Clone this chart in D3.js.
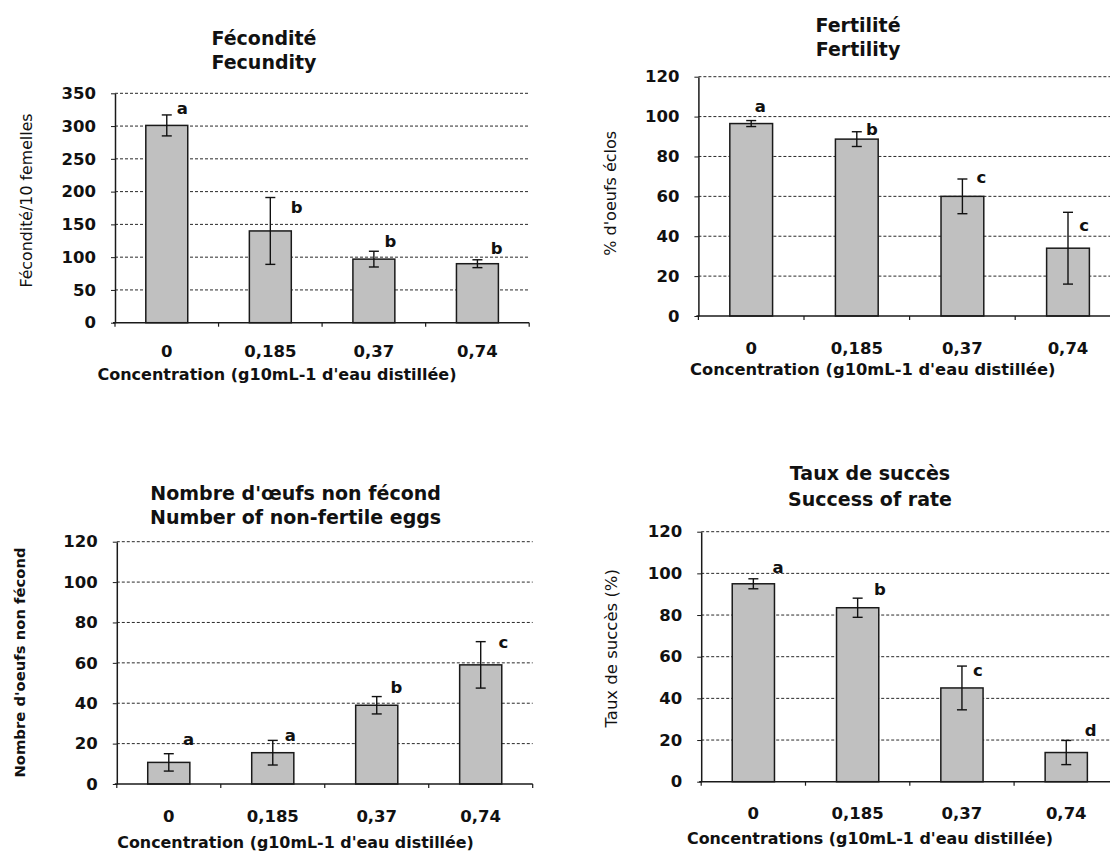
<!DOCTYPE html>
<html>
<head>
<meta charset="utf-8">
<script src="https://cdn.jsdelivr.net/npm/d3@7/dist/d3.min.js"></script>
<style>
  html, body { margin: 0; padding: 0; background: #fff; }
  svg { display: block; font-family: "DejaVu Sans", Verdana, sans-serif; }
</style>
</head>
<body>
<svg id="chart" width="1110" height="852"></svg>
<script>
// Concentrations tested (g per 10 mL of distilled water)
const categories = ["0", "0,185", "0,37", "0,74"];

// Fecundity (eggs per 10 females)
const fecundityMean = [301, 140, 97, 90];
const fecundityErr = [16, 51, 12, 6];
const fecundityLetters = ["a", "b", "b", "b"];
const fecundityTicks = [0, 50, 100, 150, 200, 250, 300, 350];

// Fertility (% hatched eggs)
const fertilityMean = [96.5, 88.7, 60, 34];
const fertilityErr = [1.5, 3.7, 8.7, 18];
const fertilityLetters = ["a", "b", "c", "c"];

// Non-fertile eggs
const nonFertileMean = [10.7, 15.5, 39, 59];
const nonFertileErr = [4.3, 6.1, 4.3, 11.5];
const nonFertileLetters = ["a", "a", "b", "c"];

// Success rate (%)
const successMean = [95, 83.5, 45, 14];
const successErr = [2.4, 4.6, 10.5, 5.8];
const successLetters = ["a", "b", "c", "d"];

const percentTicks = [0, 20, 40, 60, 80, 100, 120];

const FONT = "'DejaVu Sans', Verdana, sans-serif";
const INK = "#111";
const svg = d3.select("#chart");

function drawPanel(p) {
  const g = svg.append("g");
  const yMax = p.ticks[p.ticks.length - 1];

  const x = d3.scaleBand()
    .domain(categories)
    .range([p.left, p.right])
    .paddingInner(0.595)
    .paddingOuter(0.2975);
  const y = d3.scaleLinear().domain([0, yMax]).range([p.bottom, p.top]);

  // dashed horizontal gridlines
  g.append("g").selectAll("line")
    .data(p.ticks.filter(t => t > 0))
    .join("line")
    .attr("x1", p.left).attr("x2", p.right)
    .attr("y1", d => y(d)).attr("y2", d => y(d))
    .attr("stroke", "#2a2a2a")
    .attr("stroke-width", 1)
    .attr("stroke-dasharray", "3,2");

  // bars
  g.append("g").selectAll("rect")
    .data(p.mean)
    .join("rect")
    .attr("x", (d, i) => x(categories[i]))
    .attr("y", d => y(d))
    .attr("width", x.bandwidth())
    .attr("height", d => y(0) - y(d))
    .attr("fill", "#c0c0c0")
    .attr("stroke", "#1a1a1a")
    .attr("stroke-width", 1.5);

  // error bars
  const eb = g.append("g").attr("stroke", INK).attr("stroke-width", 1.4);
  p.mean.forEach((m, i) => {
    const cx = x(categories[i]) + x.bandwidth() / 2;
    const hi = y(m + p.err[i]), lo = y(m - p.err[i]);
    eb.append("line").attr("x1", cx).attr("x2", cx).attr("y1", hi).attr("y2", lo);
    eb.append("line").attr("x1", cx - 5).attr("x2", cx + 5).attr("y1", hi).attr("y2", hi);
    eb.append("line").attr("x1", cx - 5).attr("x2", cx + 5).attr("y1", lo).attr("y2", lo);
  });

  // significance letters
  g.append("g").selectAll("text")
    .data(p.letters)
    .join("text")
    .attr("x", (d, i) => x(categories[i]) + x.bandwidth() / 2 + p.letterDx[i])
    .attr("y", (d, i) => y(p.mean[i] + p.err[i]) + p.letterDy[i])
    .attr("dy", "0.35em")
    .attr("text-anchor", "middle")
    .attr("font-size", 16.5)
    .attr("font-weight", "bold")
    .attr("fill", INK)
    .text(d => d);

  // y axis
  const yAxis = g.append("g")
    .attr("transform", `translate(${p.left},0)`)
    .call(d3.axisLeft(y).tickValues(p.ticks).tickSize(4).tickPadding(15).tickSizeOuter(0));
  yAxis.select(".domain").attr("stroke", "#1a1a1a").attr("stroke-width", 1.5);
  yAxis.selectAll(".tick line").attr("stroke", "#1a1a1a");
  yAxis.selectAll(".tick text")
    .attr("font-family", FONT)
    .attr("font-size", 16.5)
    .attr("font-weight", "bold")
    .attr("fill", INK);

  // x axis line and category boundary ticks
  g.append("line")
    .attr("x1", p.left - 2).attr("x2", p.right)
    .attr("y1", y(0)).attr("y2", y(0))
    .attr("stroke", "#1a1a1a").attr("stroke-width", 1.5);
  const bounds = d3.range(categories.length + 1).map(i => p.left + i * x.step());
  g.append("g").selectAll("line")
    .data(bounds)
    .join("line")
    .attr("x1", d => d).attr("x2", d => d)
    .attr("y1", y(0)).attr("y2", y(0) + 4)
    .attr("stroke", "#1a1a1a").attr("stroke-width", 1.2);

  // category labels
  g.append("g").selectAll("text")
    .data(categories)
    .join("text")
    .attr("x", d => x(d) + x.bandwidth() / 2)
    .attr("y", y(0) + p.catOffset)
    .attr("dy", "0.35em")
    .attr("text-anchor", "middle")
    .attr("font-size", 16.5)
    .attr("font-weight", "bold")
    .attr("fill", INK)
    .text(d => d);

  // x axis title
  g.append("text")
    .attr("x", p.xTitleX).attr("y", p.xTitleY)
    .attr("dy", "0.35em")
    .attr("text-anchor", "middle")
    .attr("font-size", p.xTitleSize)
    .attr("font-weight", "bold")
    .attr("fill", INK)
    .text(p.xTitle);

  // y axis title
  g.append("text")
    .attr("transform", `translate(${p.yTitleX},${p.yTitleY}) rotate(-90)`)
    .attr("dy", "0.35em")
    .attr("text-anchor", "middle")
    .attr("font-size", p.yTitleSize)
    .attr("font-weight", p.yTitleWeight)
    .attr("fill", INK)
    .text(p.yTitle);

  // chart title (two lines)
  p.title.forEach((t, i) => {
    g.append("text")
      .attr("x", p.titleX).attr("y", p.titleY[i])
      .attr("dy", "0.35em")
      .attr("text-anchor", "middle")
      .attr("font-size", 19)
      .attr("font-weight", "bold")
      .attr("fill", INK)
      .text(t);
  });
}

const xTitleText = "Concentration (g10mL-1 d'eau distillée)";

drawPanel({
  mean: fecundityMean, err: fecundityErr, letters: fecundityLetters, ticks: fecundityTicks,
  title: ["Fécondité", "Fecundity"],
  yTitle: "Fécondité/10 femelles", yTitleWeight: "normal", yTitleSize: 15.8,
  xTitle: xTitleText, xTitleSize: 16,
  left: 115, right: 529.2, top: 93.3, bottom: 322.7,
  titleX: 264, titleY: [38.5, 62.5],
  yTitleX: 26, yTitleY: 200.5,
  xTitleX: 277, xTitleY: 374.8, catOffset: 29,
  letterDx: [15.5, 26.3, 16.5, 19.2], letterDy: [-6.6, 10, -9.6, -11.8]
});

drawPanel({
  mean: fertilityMean, err: fertilityErr, letters: fertilityLetters, ticks: percentTicks,
  title: ["Fertilité", "Fertility"],
  yTitle: "% d'oeufs éclos", yTitleWeight: "normal", yTitleSize: 16,
  xTitle: xTitleText, xTitleSize: 16.3,
  left: 698.4, right: 1120.8, top: 76.7, bottom: 316,
  titleX: 858, titleY: [25, 49.3],
  yTitleX: 610, yTitleY: 193.3,
  xTitleX: 872.7, xTitleY: 369.3, catOffset: 32,
  letterDx: [9.1, 15, 19.1, 16.2], letterDy: [-14, -2.8, -1.3, 12.7]
});

drawPanel({
  mean: nonFertileMean, err: nonFertileErr, letters: nonFertileLetters, ticks: percentTicks,
  title: ["Nombre d'œufs non fécond", "Number of non-fertile eggs"],
  yTitle: "Nombre d'oeufs non fécond", yTitleWeight: "bold", yTitleSize: 14.8,
  xTitle: xTitleText, xTitleSize: 15.9,
  left: 116.8, right: 532.7, top: 541.7, bottom: 784,
  titleX: 295.6, titleY: [493.3, 517.3],
  yTitleX: 19.5, yTitleY: 662.5,
  xTitleX: 295.6, xTitleY: 842.5, catOffset: 32,
  letterDx: [19.9, 17.5, 19.7, 22.6], letterDy: [-14.7, -5, -9.3, 0.3]
});

drawPanel({
  mean: successMean, err: successErr, letters: successLetters, ticks: percentTicks,
  title: ["Taux de succès", "Success of rate"],
  yTitle: "Taux de succès (%)", yTitleWeight: "normal", yTitleSize: 16.5,
  xTitle: "Concentrations (g10mL-1 d'eau distillée)", xTitleSize: 15.9,
  left: 701.2, right: 1118.4, top: 531.7, bottom: 781.7,
  titleX: 870, titleY: [473.3, 499.3],
  yTitleX: 611.6, yTitleY: 648.3,
  xTitleX: 870, xTitleY: 838.3, catOffset: 32,
  letterDx: [24.6, 22.3, 16, 24.3], letterDy: [-12, -9, 4, -10.5]
});
</script>
</body>
</html>
